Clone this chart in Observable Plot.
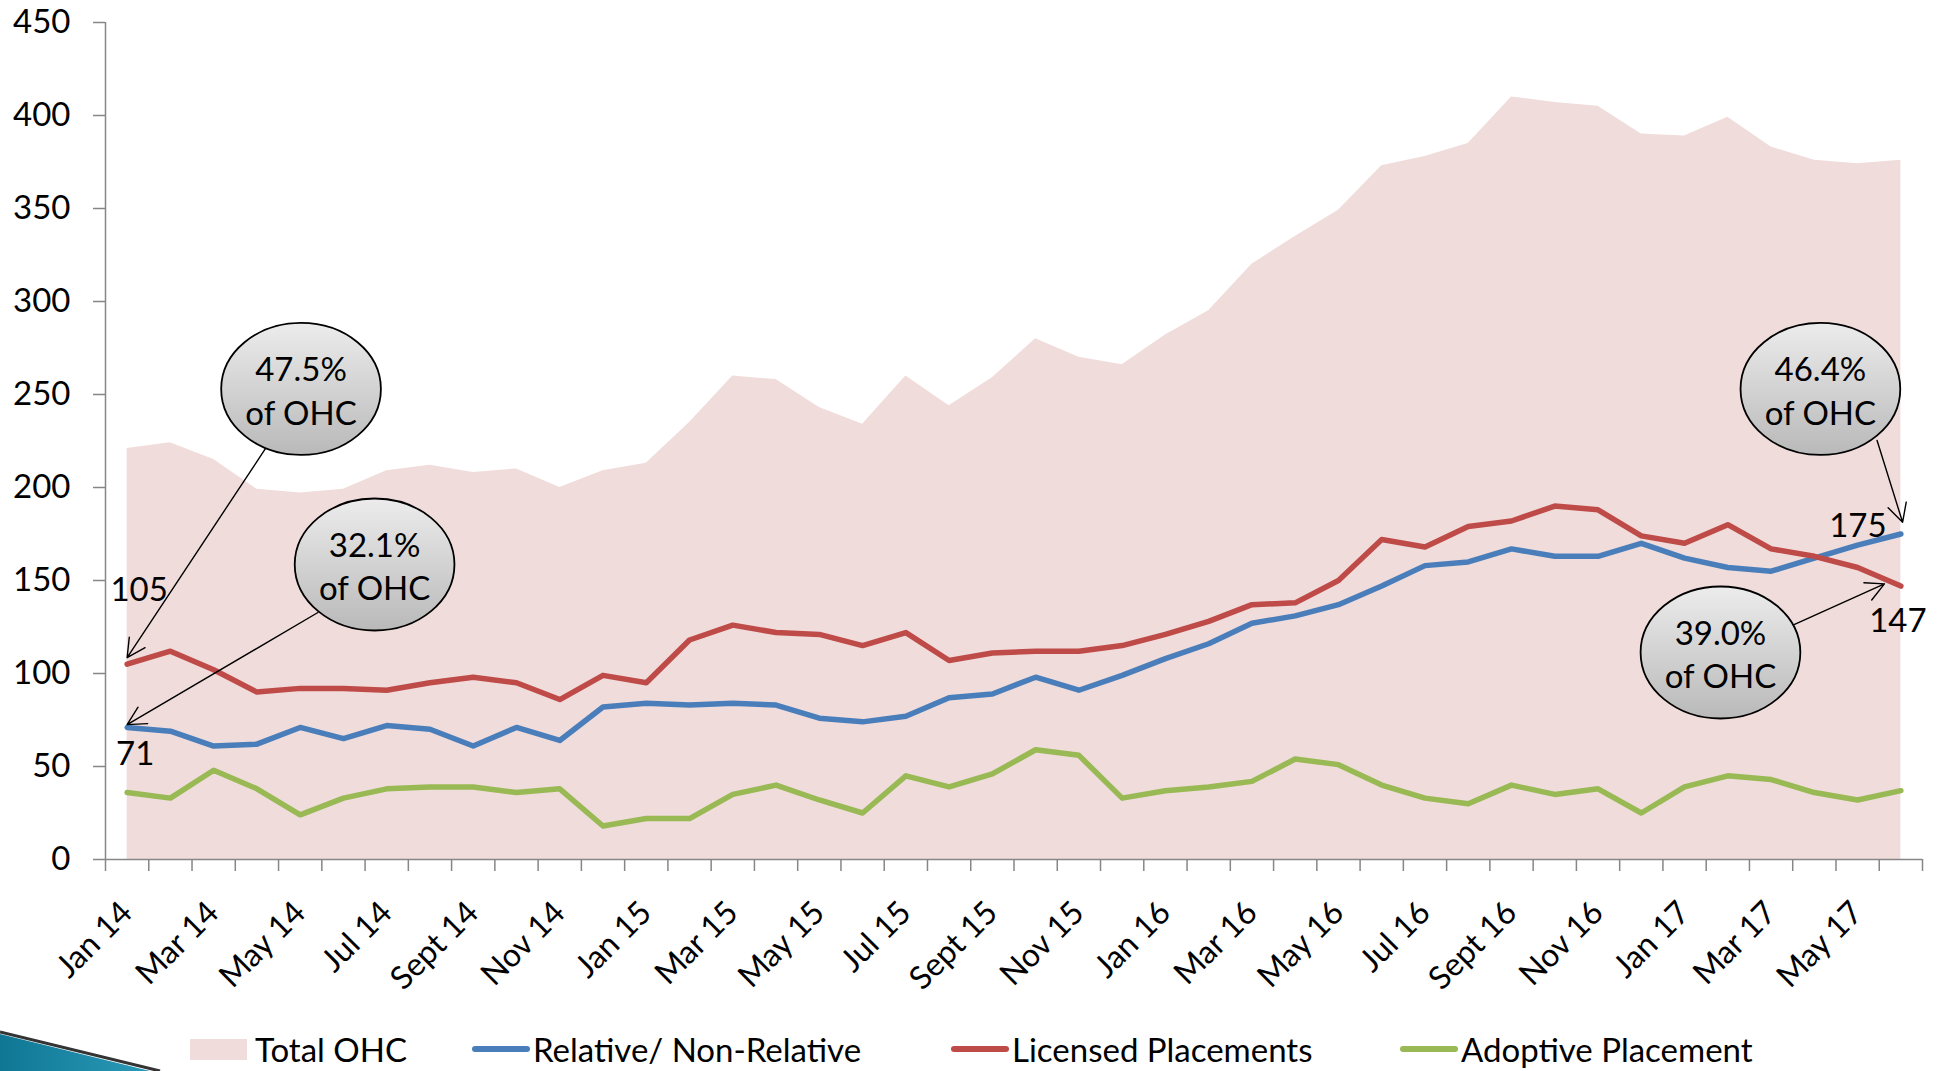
<!DOCTYPE html>
<html><head><meta charset="utf-8">
<script src="https://cdn.jsdelivr.net/npm/d3@7"></script>
<script src="https://cdn.jsdelivr.net/npm/@observablehq/plot@0.6"></script>
<style>
html,body{margin:0;padding:0;background:#fff;}
body{width:1937px;height:1071px;position:relative;overflow:hidden;font-family:Lato,"Open Sans",sans-serif;}
#chart{position:absolute;left:0;top:0;}
.item{position:absolute;top:1030px;display:flex;align-items:center;font-size:33px;color:#000;white-space:nowrap;height:38px;}
.sw-area{width:57px;height:21px;background:#f0dcdb;margin-right:8px;}
.sw-line{width:58px;height:6px;border-radius:3px;margin-right:3px;}
#deco{position:absolute;left:0;top:1026px;}
</style></head><body>
<div id="chart"></div>
<div id="legend"></div>
<svg id="deco" width="170" height="45">
  <defs><linearGradient id="decoGrad" x1="0" y1="0" x2="1" y2="0"><stop offset="0" stop-color="#0f7794"/><stop offset="1" stop-color="#2a9ab8"/></linearGradient></defs>
  <polygon points="0,8 0,45 150,45" fill="url(#decoGrad)"/>
  <line x1="0" y1="6" x2="160" y2="45" stroke="#111" stroke-width="3" opacity="0.85"/>
</svg>
<script>
// ---- data ----
const months = ["Jan 14","Feb 14","Mar 14","Apr 14","May 14","Jun 14","Jul 14","Aug 14","Sept 14","Oct 14","Nov 14","Dec 14",
  "Jan 15","Feb 15","Mar 15","Apr 15","May 15","Jun 15","Jul 15","Aug 15","Sept 15","Oct 15","Nov 15","Dec 15",
  "Jan 16","Feb 16","Mar 16","Apr 16","May 16","Jun 16","Jul 16","Aug 16","Sept 16","Oct 16","Nov 16","Dec 16",
  "Jan 17","Feb 17","Mar 17","Apr 17","May 17","Jun 17"];
const totalOHC = [221,224,215,199,197,199,209,212,208,210,200,209,213,235,260,258,243,234,260,244,259,280,270,266,282,295,320,335,349,373,378,385,410,407,405,390,389,399,383,376,374,376];
const relative = [71,69,61,62,71,65,72,70,61,71,64,82,84,83,84,83,76,74,77,87,89,98,91,99,108,116,127,131,137,147,158,160,167,163,163,170,162,157,155,162,169,175];
const licensed = [105,112,102,90,92,92,91,95,98,95,86,99,95,118,126,122,121,115,122,107,111,112,112,115,121,128,137,138,150,172,168,179,182,190,188,174,170,180,167,163,157,147];
const adoptive = [36,33,48,38,24,33,38,39,39,36,38,18,22,22,35,40,32,25,45,39,46,59,56,33,37,39,42,54,51,40,33,30,40,35,38,25,39,45,43,36,32,37];
const yTicks = [0,50,100,150,200,250,300,350,400,450];
const seriesNames = ["Total OHC","Relative/ Non-Relative","Licensed Placements","Adoptive Placement"];
const colors = {area:"#f0dcdb", rel:"#4a7ebb", lic:"#be4b48", adp:"#98b954", axis:"#868686"};
const bubbleTexts = ["47.5%\nof OHC","32.1%\nof OHC","46.4%\nof OHC","39.0%\nof OHC"];

// ---- build ----
const n = months.length, last = n - 1;
const rows = d3.range(n).map(i => ({i, total: totalOHC[i], rel: relative[i], lic: licensed[i], adp: adoptive[i]}));
const boundaries = d3.range(n + 1).map(i => i - 0.5);
const labelIdx = d3.range(0, n, 2);

// annotation layout (data units)
const bubbles = [
  {text: bubbleTexts[0], x: 4.02, y: 253},
  {text: bubbleTexts[1], x: 5.72, y: 158.6},
  {text: bubbleTexts[2], x: 39.14, y: 253},
  {text: bubbleTexts[3], x: 36.83, y: 111.3}
];
const arrows = [
  {x1: 3.2, y1: 221, x2: 0, y2: licensed[0] + 3.5},
  {x1: 4.41, y1: 132.8, x2: 0, y2: relative[0] + 1.5},
  {x1: 40.45, y1: 225.3, x2: last + 0.04, y2: relative[last] + 6.3},
  {x1: 38.53, y1: 126.3, x2: last - 0.38, y2: licensed[last] + 1.2}
];
const valueLabels = [
  {x: 0, y: licensed[0], dx: 12, dy: -74},
  {x: 0, y: relative[0], dx: 8, dy: 27},
  {x: last, y: relative[last], dx: -43, dy: -8},
  {x: last, y: licensed[last], dx: -3, dy: 35}
];

const ellipse = {draw(ctx, size) {
  const r = Math.sqrt(size / Math.PI), rx = r * 1.21, ry = r, k = 0.5523;
  ctx.moveTo(rx, 0);
  ctx.bezierCurveTo(rx, ry * k, rx * k, ry, 0, ry);
  ctx.bezierCurveTo(-rx * k, ry, -rx, ry * k, -rx, 0);
  ctx.bezierCurveTo(-rx, -ry * k, -rx * k, -ry, 0, -ry);
  ctx.bezierCurveTo(rx * k, -ry, rx, -ry * k, rx, 0);
  ctx.closePath();
}};

const lineOpts = {strokeWidth: 5.5, strokeLinejoin: "round", strokeLinecap: "round"};

const plot = Plot.plot({
  width: 1937, height: 1010,
  marginLeft: 105, marginRight: 15, marginTop: 22, marginBottom: 151,
  style: {fontFamily: "Lato, 'Open Sans', sans-serif", background: "#fff", color: "#000", overflow: "visible"},
  x: {domain: [-0.5, n - 0.5]},
  y: {domain: [0, 450]},
  marks: [
    Plot.areaY(rows, {x: "i", y: "total", fill: colors.area}),
    Plot.lineY(rows, {x: "i", y: "rel", stroke: colors.rel, ...lineOpts}),
    Plot.lineY(rows, {x: "i", y: "lic", stroke: colors.lic, ...lineOpts}),
    Plot.lineY(rows, {x: "i", y: "adp", stroke: colors.adp, ...lineOpts}),
    Plot.ruleX([-0.5], {stroke: colors.axis, strokeWidth: 1.5}),
    Plot.ruleY([0], {stroke: colors.axis, strokeWidth: 1.5}),
    Plot.axisY({ticks: yTicks, tickSize: 12, tickPadding: 23, fontSize: 33, stroke: colors.axis, strokeWidth: 1.5, fill: "#000", label: null}),
    Plot.axisX({ticks: boundaries, tickSize: 12, stroke: colors.axis, strokeWidth: 1.5, fill: "none", label: null}),
    Plot.text(labelIdx, {x: d => d, text: d => months[d], frameAnchor: "bottom", rotate: -45, textAnchor: "end", lineAnchor: "top", dx: -9, dy: 39, fontSize: 32, fill: "#000"}),
    Plot.arrow(arrows, {x1: "x1", y1: "y1", x2: "x2", y2: "y2", stroke: "#000", strokeWidth: 1.4, headLength: 22, headAngle: 55}),
    Plot.dot(bubbles, {x: "x", y: "y", r: 66, symbol: ellipse, fill: "url(#bubbleGrad)", stroke: "#000", strokeWidth: 1.8}),
    Plot.text(bubbles, {x: "x", y: "y", text: "text", fontSize: 33, lineHeight: 1.33, fill: "#000"}),
    valueLabels.map(d => Plot.text([d], {x: "x", y: "y", text: v => String(v.y), dx: d.dx, dy: d.dy, fontSize: 33, fill: "#000"}))
  ]
});

const ns = "http://www.w3.org/2000/svg";
const defs = document.createElementNS(ns, "defs");
const grad = document.createElementNS(ns, "linearGradient");
grad.setAttribute("id", "bubbleGrad");
grad.setAttribute("x1", "0"); grad.setAttribute("y1", "0"); grad.setAttribute("x2", "0"); grad.setAttribute("y2", "1");
[["0", "#ececec"], ["1", "#b9b9b9"]].forEach(([o, c]) => {
  const s = document.createElementNS(ns, "stop");
  s.setAttribute("offset", o); s.setAttribute("stop-color", c); grad.appendChild(s);
});
defs.appendChild(grad);
plot.insertBefore(defs, plot.firstChild);
document.getElementById("chart").appendChild(plot);

// legend
const legend = document.getElementById("legend");
const legendLeft = [190, 472, 951, 1400];
const legendSw = ["area", "rel", "lic", "adp"];
seriesNames.forEach((name, k) => {
  const it = document.createElement("div");
  it.className = "item";
  it.style.left = legendLeft[k] + "px";
  const sw = document.createElement("div");
  if (k === 0) { sw.className = "sw-area"; }
  else { sw.className = "sw-line"; sw.style.background = colors[legendSw[k]]; }
  const tx = document.createElement("span");
  tx.textContent = name;
  it.appendChild(sw); it.appendChild(tx);
  legend.appendChild(it);
});
</script>
</body></html>
